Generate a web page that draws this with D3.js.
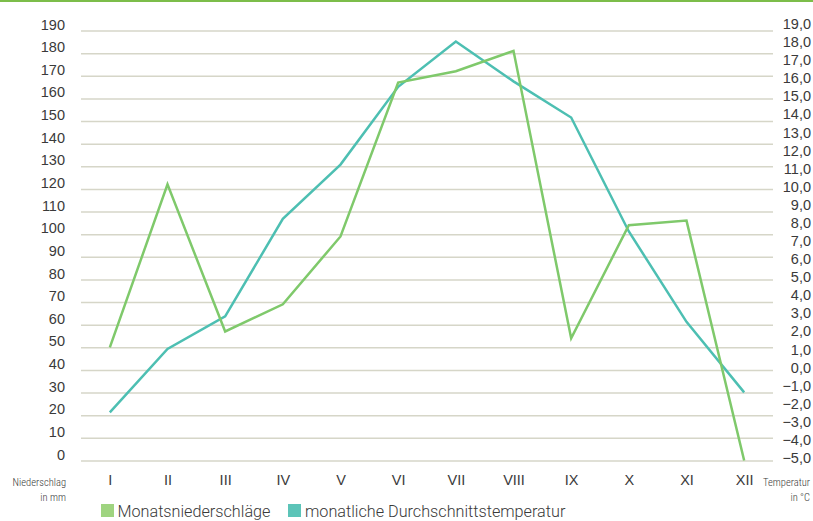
<!DOCTYPE html>
<html>
<head>
<meta charset="utf-8">
<script src="https://cdn.jsdelivr.net/npm/d3@7"></script>
<style>
  html, body { margin: 0; padding: 0; background: #fff; }
  svg { display: block; font-family: Roboto, "Open Sans", sans-serif; }
</style>
</head>
<body>
<svg id="chart" width="813" height="521"></svg>
<script>
// Monthly precipitation (mm) and mean temperature (°C)
const months = ["I", "II", "III", "IV", "V", "VI", "VII", "VIII", "IX", "X", "XI", "XII"];
const precipitation = [50, 122, 57, 69, 99, 167, 172, 181, 54, 104, 106, 0];
const temperature = [-2.5, 1.0, 2.8, 8.2, 11.2, 15.5, 18.0, 15.8, 13.8, 7.5, 2.5, -1.4];
const precipTicks = d3.range(0, 191, 10);
const tempTicks = d3.range(-5, 20, 1);
const seriesNames = ["Monatsniederschläge", "monatliche Durchschnittstemperatur"];

const colors = { precip: "#7fc96b", temp: "#4dbfb2", grid: "#d6d6c8", text: "#3a3a3a" };

const svg = d3.select("#chart");
const left = 81, right = 773;

const x = d3.scalePoint().domain(months).range([left, right]).padding(0.5);
const yP = d3.scaleLinear().domain([0, 190]).range([460.5, 30.5]);
const yT = d3.scaleLinear().domain([-5, 19]).range([457.5, 23.5]);

const de = d3.formatLocale({ decimal: ",", thousands: ".", grouping: [3], currency: ["", " €"], minus: "\u2212" });
const fmtT = de.format(".1f");

// top rule
svg.append("rect").attr("x", 0).attr("y", 0).attr("width", 813).attr("height", 2).attr("fill", "#7cbd4a");

// left axis with gridlines
const gl = svg.append("g").attr("transform", `translate(${left},0)`)
  .call(d3.axisLeft(yP).tickValues(precipTicks).tickSize(-(right - left)).tickPadding(16).tickFormat(d3.format("d")));
gl.select(".domain").remove();
gl.selectAll(".tick line").attr("stroke", colors.grid).attr("stroke-width", 1.5);
gl.selectAll(".tick text").attr("fill", colors.text).attr("font-size", 14.5).attr("font-weight", 300)
  .attr("dy", "-0.1em");

// right axis labels
const gr = svg.append("g").attr("transform", `translate(811,0)`)
  .call(d3.axisRight(yT).tickValues(tempTicks).tickSize(0).tickPadding(0).tickFormat(fmtT));
gr.select(".domain").remove();
gr.selectAll(".tick text").attr("fill", colors.text).attr("font-size", 14.5).attr("font-weight", 300)
  .attr("text-anchor", "end").attr("dy", "0.35em");

// month labels
const gx = svg.append("g").attr("transform", `translate(0,475)`)
  .call(d3.axisBottom(x).tickSize(0).tickPadding(0));
gx.select(".domain").remove();
gx.selectAll(".tick text").attr("fill", colors.text).attr("font-size", 14.5).attr("font-weight", 300);

// axis titles
const small = svg.append("g").attr("fill", colors.text).attr("font-size", 10.5).attr("font-weight", 300)
  .attr("font-stretch", "condensed");
small.append("text").attr("x", 66).attr("y", 486).attr("text-anchor", "end").text("Niederschlag");
small.append("text").attr("x", 66).attr("y", 501).attr("text-anchor", "end").text("in mm");
small.append("text").attr("x", 810).attr("y", 486).attr("text-anchor", "end").text("Temperatur");
small.append("text").attr("x", 810).attr("y", 501).attr("text-anchor", "end").text("in °C");

// lines
const linePrecip = d3.line().x((d, i) => x(months[i])).y(d => yP(d));
const lineTemp = d3.line().x((d, i) => x(months[i])).y(d => yT(d));

svg.append("path").datum(temperature).attr("d", lineTemp)
  .attr("fill", "none").attr("stroke", colors.temp).attr("stroke-width", 2.5).attr("stroke-linejoin", "miter");
svg.append("path").datum(precipitation).attr("d", linePrecip)
  .attr("fill", "none").attr("stroke", colors.precip).attr("stroke-width", 2.5).attr("stroke-linejoin", "miter");

// legend
const legend = svg.append("g").attr("font-size", 16.2).attr("font-weight", 300).attr("fill", colors.text);
const lg1 = legend.append("g").attr("transform", "translate(101,504)");
lg1.append("rect").attr("width", 13).attr("height", 13).attr("fill", "#9fd480");
lg1.append("text").attr("x", 16.5).attr("y", 13).text(seriesNames[0]);
const lg2 = legend.append("g").attr("transform", "translate(288,504)");
lg2.append("rect").attr("width", 13).attr("height", 13).attr("fill", "#5cc4b8");
lg2.append("text").attr("x", 17).attr("y", 13).text(seriesNames[1]);
</script>
</body>
</html>
